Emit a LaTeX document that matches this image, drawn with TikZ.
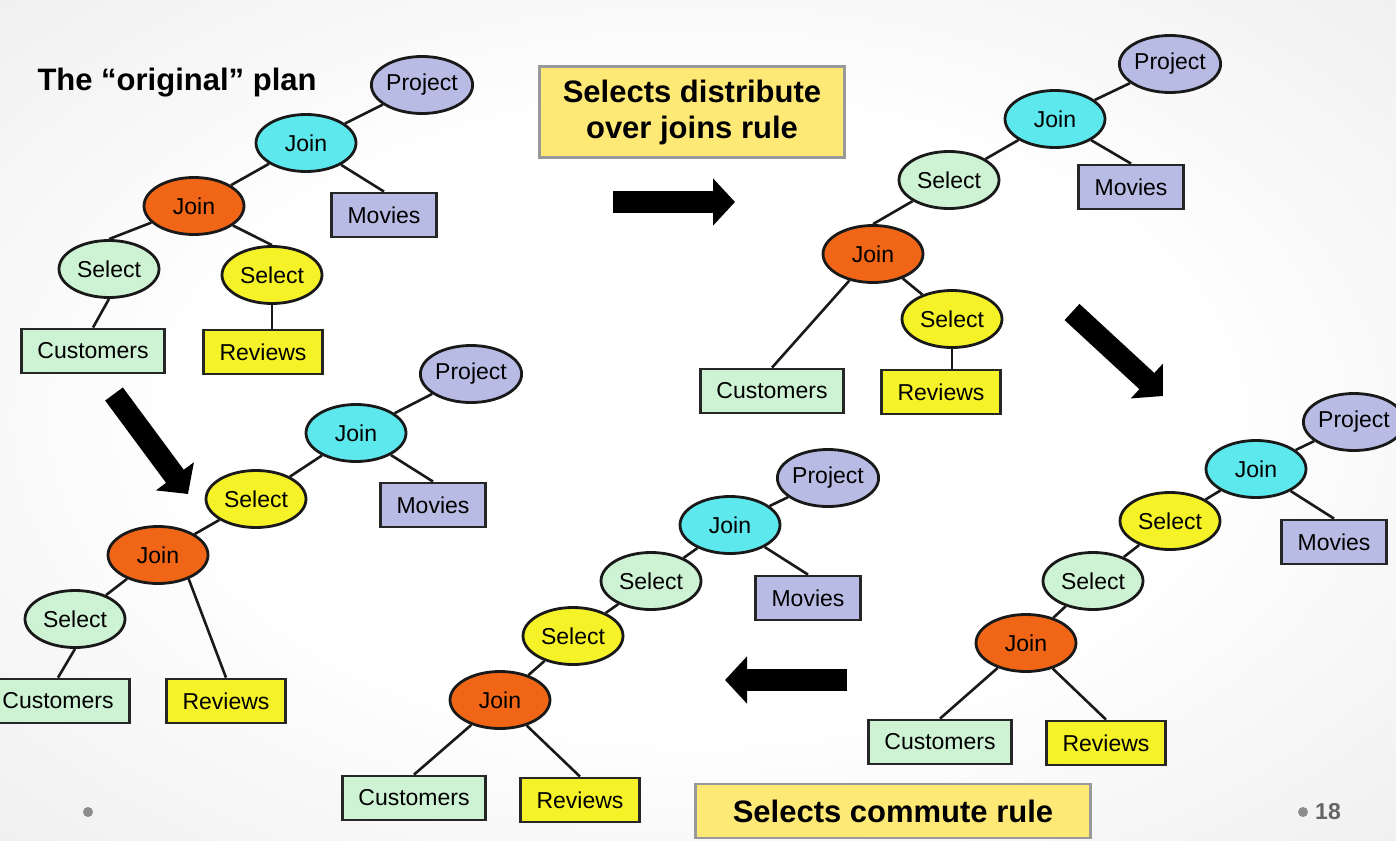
\documentclass[tikz,border=0pt]{standalone}
\usepackage{fontspec}
\setmainfont{Liberation Sans}
\usetikzlibrary{shapes.geometric,arrows.meta}

\definecolor{projcol}{RGB}{184,188,228}
\definecolor{joinA}{RGB}{92,232,236}
\definecolor{joinB}{RGB}{240,102,22}
\definecolor{selA}{RGB}{206,242,212}
\definecolor{selB}{RGB}{246,242,40}
\definecolor{rulecol}{RGB}{255,233,118}
\pgfdeclareradialshading{slidebg}{\pgfpoint{0bp}{0bp}}{color(0bp)=(white); color(18bp)=(white); color(45bp)=(black!9); color(72bp)=(black!20)}

\begin{document}
\begin{tikzpicture}[x=1pt,y=-1pt,font=\fontsize{23}{26}\selectfont,
    op/.style={ellipse,draw=black!90,line width=2.8pt,minimum width=100pt,minimum height=57pt,inner sep=0pt},
    rel/.style={rectangle,draw=black!85,line width=2.8pt,minimum height=44pt,inner xsep=16pt,inner ysep=0pt},
    rulebox/.style={rectangle,draw=black!40,line width=2.8pt,fill=rulecol,font=\fontsize{31}{36}\selectfont\bfseries,align=center},
    edge/.style={draw=black!90,line width=2.6pt},
    bigarrow/.style={draw=black,line width=22pt,-{Triangle[length=22pt,width=46pt]}}]
    \useasboundingbox (0,0) rectangle (1396,840);
    \shade[shading=slidebg] (0,0) rectangle (1396,840);

    % original plan
    \node[anchor=west,font=\fontsize{31}{36}\selectfont\bfseries] (title) at (34,83) {The “original” plan};
    \node[op,fill=projcol] (pr1) at (422,85) {Project};
    \node[op,fill=joinA] (jc1) at (306,143) {Join};
    \node[rel,fill=projcol] (mv1) at (384,215) {Movies};
    \node[op,fill=joinB] (jo1) at (194,206) {Join};
    \node[op,fill=selA] (sg1) at (109,269) {Select};
    \node[op,fill=selB] (sy1) at (272,275) {Select};
    \node[rel,fill=selA] (cu1) at (93,351) {Customers};
    \node[rel,fill=selB] (rv1) at (263,352) {Reviews};
    \draw[edge] (pr1) -- (jc1);
    \draw[edge] (jc1) -- (mv1.north);
    \draw[edge] (jc1) -- (jo1);
    \draw[edge] (jo1) -- (sg1.north);
    \draw[edge] (jo1) -- (sy1.north);
    \draw[edge] (sg1.south) -- (cu1.north);
    \draw[edge] (sy1.south) -- (sy1.south |- rv1.north);

    % distribute rule
    \node[rulebox,minimum width=305pt,minimum height=91pt] (rule1) at (692,112) {Selects distribute\\over joins rule};
    \coordinate (a1s) at (613,202);
    \coordinate (a1e) at (735,202);
    \draw[bigarrow] (a1s) -- (a1e);

    % plan 2
    \node[op,fill=projcol] (pr2) at (1170,64) {Project};
    \node[op,fill=joinA] (jc2) at (1055,119) {Join};
    \node[rel,fill=projcol] (mv2) at (1131,187) {Movies};
    \node[op,fill=selA] (sg2) at (949,180) {Select};
    \node[op,fill=joinB] (jo2) at (873,254) {Join};
    \node[op,fill=selB] (sy2) at (952,319) {Select};
    \node[rel,fill=selA] (cu2) at (772,391) {Customers};
    \node[rel,fill=selB] (rv2) at (941,392) {Reviews};
    \draw[edge] (pr2) -- (jc2);
    \draw[edge] (jc2) -- (mv2.north);
    \draw[edge] (jc2) -- (sg2);
    \draw[edge] (sg2) -- (jo2.north);
    \draw[edge] (jo2) -- (cu2.north);
    \draw[edge] (jo2) -- (sy2);
    \draw[edge] (sy2.south) -- (sy2.south |- rv2.north);

    \coordinate (a2s) at (1072,312);
    \coordinate (a2e) at (1163,396);
    \draw[bigarrow] (a2s) -- (a2e);

    % plan 3
    \coordinate (a3s) at (114,394);
    \coordinate (a3e) at (188,494);
    \draw[bigarrow] (a3s) -- (a3e);
    \node[op,fill=projcol] (pr3) at (471,374) {Project};
    \node[op,fill=joinA] (jc3) at (356,433) {Join};
    \node[rel,fill=projcol] (mv3) at (433,505) {Movies};
    \node[op,fill=selB] (sy3) at (256,499) {Select};
    \node[op,fill=joinB] (jo3) at (158,555) {Join};
    \node[op,fill=selA] (sg3) at (75,619) {Select};
    \node[rel,fill=selA] (cu3) at (58,701) {Customers};
    \node[rel,fill=selB] (rv3) at (226,701) {Reviews};
    \draw[edge] (pr3) -- (jc3);
    \draw[edge] (jc3) -- (mv3.north);
    \draw[edge] (jc3) -- (sy3);
    \draw[edge] (sy3) -- (jo3);
    \draw[edge] (jo3) -- (sg3);
    \draw[edge] (jo3.-38) -- (rv3.north);
    \draw[edge] (sg3.south) -- (cu3.north);

    % plan 4
    \node[op,fill=projcol] (pr4) at (828,478) {Project};
    \node[op,fill=joinA] (jc4) at (730,525) {Join};
    \node[rel,fill=projcol] (mv4) at (808,598) {Movies};
    \node[op,fill=selA] (sg4) at (651,581) {Select};
    \node[op,fill=selB] (sy4) at (573,636) {Select};
    \node[op,fill=joinB] (jo4) at (500,700) {Join};
    \node[rel,fill=selA] (cu4) at (414,798) {Customers};
    \node[rel,fill=selB] (rv4) at (580,800) {Reviews};
    \draw[edge] (pr4) -- (jc4);
    \draw[edge] (jc4) -- (mv4.north);
    \draw[edge] (jc4) -- (sg4);
    \draw[edge] (sg4) -- (sy4);
    \draw[edge] (sy4) -- (jo4);
    \draw[edge] (jo4) -- (cu4.north);
    \draw[edge] (jo4) -- (rv4.north);

    \coordinate (a4s) at (847,680);
    \coordinate (a4e) at (725,680);
    \draw[bigarrow] (a4s) -- (a4e);

    % plan 5
    \node[op,fill=projcol] (pr5) at (1354,422) {Project};
    \node[op,fill=joinA] (jc5) at (1256,469) {Join};
    \node[rel,fill=projcol] (mv5) at (1334,542) {Movies};
    \node[op,fill=selB] (sy5) at (1170,521) {Select};
    \node[op,fill=selA] (sg5) at (1093,581) {Select};
    \node[op,fill=joinB] (jo5) at (1026,643) {Join};
    \node[rel,fill=selA] (cu5) at (940,742) {Customers};
    \node[rel,fill=selB] (rv5) at (1106,743) {Reviews};
    \draw[edge] (pr5) -- (jc5);
    \draw[edge] (jc5) -- (mv5.north);
    \draw[edge] (jc5) -- (sy5);
    \draw[edge] (sy5) -- (sg5);
    \draw[edge] (sg5) -- (jo5);
    \draw[edge] (jo5) -- (cu5.north);
    \draw[edge] (jo5) -- (rv5.north);

    % commute rule
    \node[rulebox,minimum width=395pt,minimum height=54pt] (rule2) at (893,811) {Selects commute rule};

    % footer
    \fill[black!45] (88,812) circle (5pt);
    \fill[black!45] (1303,812) circle (5pt);
    \node[font=\fontsize{23}{26}\selectfont\bfseries,text=black!60] (pgno) at (1328,812) {18};
\end{tikzpicture}
\end{document}
